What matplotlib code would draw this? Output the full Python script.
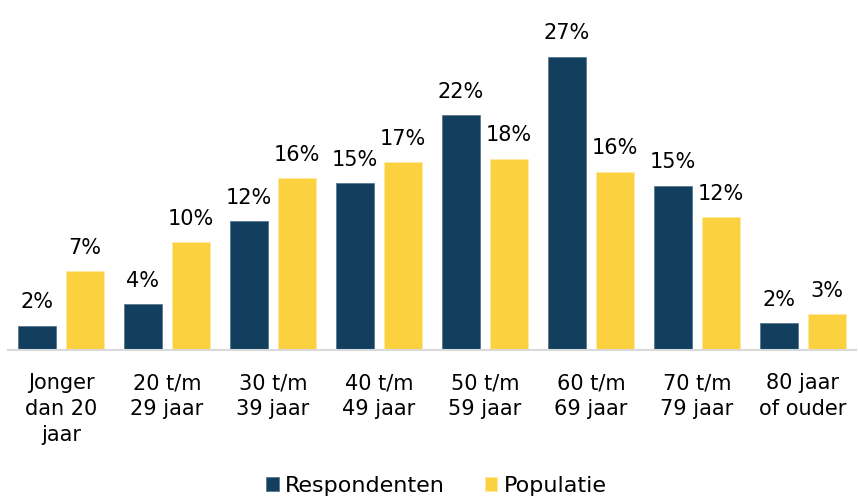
import matplotlib
matplotlib.use("Agg")
import matplotlib.pyplot as plt
import numpy as np

categories = ["Jonger\ndan 20\njaar", "20 t/m\n29 jaar", "30 t/m\n39 jaar", "40 t/m\n49 jaar",
              "50 t/m\n59 jaar", "60 t/m\n69 jaar", "70 t/m\n79 jaar", "80 jaar\nof ouder"]
respondenten = [2.2, 4.2, 11.8, 15.3, 21.6, 27.0, 15.1, 2.4]
populatie = [7.2, 9.9, 15.8, 17.3, 17.6, 16.4, 12.2, 3.3]
resp_labels = ["2%", "4%", "12%", "15%", "22%", "27%", "15%", "2%"]
pop_labels = ["7%", "10%", "16%", "17%", "18%", "16%", "12%", "3%"]

navy = "#123F5D"
yellow = "#FCD13F"

plt.rcParams['font.family'] = ['DejaVu Sans']
fig = plt.figure(figsize=(8.58, 4.97), dpi=100)
ax = fig.add_axes([8/858, 1-349.5/497, 848/858, (349.5-24)/497])

x = np.arange(len(categories))
w = 0.36
off = 0.227
b1 = ax.bar(x - off, respondenten, w, color=navy, edgecolor="#5a7a90", linewidth=0.6, label="Respondenten")
b2 = ax.bar(x + off, populatie, w, color=yellow, edgecolor="#fde9a0", linewidth=0.6, label="Populatie")

for rect, lab in zip(b1, resp_labels):
    ax.annotate(lab, (rect.get_x() + rect.get_width()/2, rect.get_height()),
                xytext=(0, 9.5), textcoords="offset points", ha="center", va="bottom", fontsize=15)
for rect, lab in zip(b2, pop_labels):
    ax.annotate(lab, (rect.get_x() + rect.get_width()/2, rect.get_height()),
                xytext=(0, 9.5), textcoords="offset points", ha="center", va="bottom", fontsize=15)

ax.set_xlim(-0.5, len(categories) - 0.5)
ax.set_ylim(0, 30)
ax.set_yticks([])
ax.set_xticks(x)
ax.set_xticklabels(categories, fontsize=15, linespacing=1.36)
ax.tick_params(axis="x", length=0, pad=17)
for s in ["top", "right", "left"]:
    ax.spines[s].set_visible(False)
ax.spines["bottom"].set_color("#d9d9d9")
ax.spines["bottom"].set_linewidth(1.5)

fig.legend(handles=[b1, b2], labels=["Respondenten", "Populatie"], loc="center",
           bbox_to_anchor=(0.509, 1-486/497), ncol=2, frameon=False, fontsize=16,
           handlelength=0.55, handleheight=0.55, handletextpad=0.3, columnspacing=1.8)

fig.savefig("out.png", dpi=100)
